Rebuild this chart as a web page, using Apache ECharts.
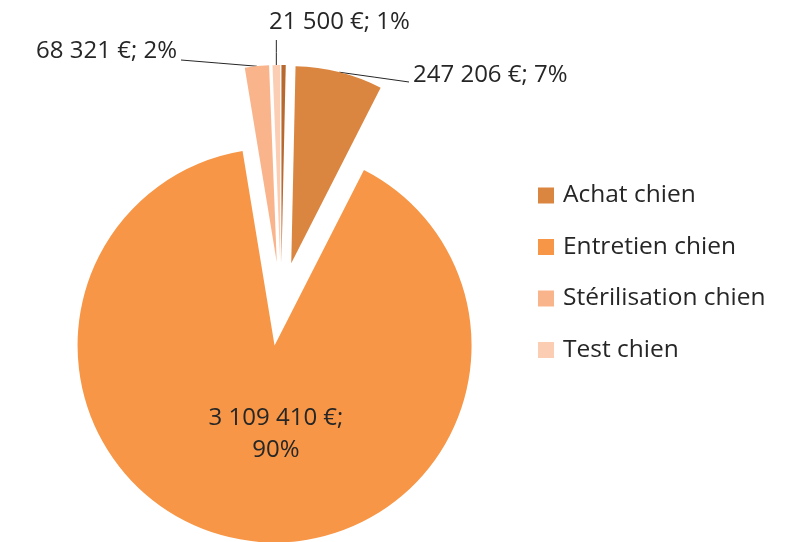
<!DOCTYPE html>
<html>
<head>
<meta charset="utf-8">
<script src="https://cdn.jsdelivr.net/npm/echarts@6/dist/echarts.min.js"></script>
<style>
  html, body { margin: 0; padding: 0; background: #fff; }
  #chart { width: 801px; height: 542px; }
</style>
</head>
<body>
<div id="chart"></div>
<script>
// Dépenses chien : montants en euros
const categories = ['Autres frais', 'Achat chien', 'Entretien chien', 'Stérilisation chien', 'Test chien'];
const montants = [12000, 247206, 3109410, 68321, 21500];
const legendNames = ['Achat chien', 'Entretien chien', 'Stérilisation chien', 'Test chien'];

const colors = ['#B8692F', '#DA8540', '#F79646', '#F9B48C', '#FBCDB3'];
const FONT = 'Open Sans';
const TEXT = '#262626';

// pie geometry and how far each slice is pulled out
const CX = 281, CY = 304, R = 197, EXPLODE = 42;

// where each label sits and where its leader line ends
const labelSpots = {
  1: { x: 413, y: 75, align: 'left', end: [409, 82] },
  2: { x: 276, y: 434, align: 'center' },
  3: { x: 177, y: 51, align: 'right', end: [181, 60] },
  4: { x: 269, y: 22, align: 'left', end: 'up' }
};

function euros(v) {
  return String(v).replace(/\B(?=(\d{3})+(?!\d))/g, ' ') + ' €';
}

// mid angle of every slice, measured clockwise from 12 o'clock
const total = montants.reduce(function (a, b) { return a + b; }, 0);
let acc = 0;
const midAngles = montants.map(function (v) {
  const m = (acc + v / 2) / total * 2 * Math.PI;
  acc += v;
  return m;
});

function sliceSeries(k) {
  const spot = labelSpots[k];
  return {
    type: 'pie',
    center: [CX + EXPLODE * Math.sin(midAngles[k]), CY - EXPLODE * Math.cos(midAngles[k])],
    radius: [0, R],
    startAngle: 90,
    clockwise: true,
    silent: true,
    avoidLabelOverlap: false,
    percentPrecision: 0,
    itemStyle: { borderWidth: 0 },
    label: {
      fontFamily: FONT,
      fontSize: 24,
      color: TEXT,
      formatter: function (p) {
        return euros(p.value) + (k === 2 ? ';\n' : '; ') + p.percent + '%';
      }
    },
    labelLine: { lineStyle: { color: '#262626', width: 1 } },
    labelLayout: function (p) {
      if (!spot) return {};
      const out = { x: spot.x, y: spot.y, align: spot.align, verticalAlign: 'middle' };
      if (spot.end && p.labelLinePoints) {
        const a = p.labelLinePoints[0];
        const e = spot.end === 'up' ? [a[0], spot.y + 18] : spot.end;
        out.labelLinePoints = [a, [(a[0] + e[0]) / 2, (a[1] + e[1]) / 2], e];
      }
      return out;
    },
    data: categories.map(function (name, i) {
      const mine = i === k;
      const item = {
        name: name,
        value: montants[i],
        itemStyle: { color: mine ? colors[i] : 'rgba(0,0,0,0)' },
        label: { show: mine && !!spot },
        labelLine: { show: mine && !!spot && !!spot.end }
      };
      if (mine && k === 2) {
        item.label.position = 'inside';
        item.label.lineHeight = 32;
        item.label.align = 'center';
      }
      return item;
    })
  };
}

const chart = echarts.init(document.getElementById('chart'), null, { renderer: 'canvas' });

chart.setOption({
  animation: false,
  legend: {
    data: legendNames.map(function (n) {
      return { name: n, itemStyle: { color: colors[categories.indexOf(n)] } };
    }),
    orient: 'vertical',
    left: 538,
    top: 183,
    padding: 0,
    icon: 'rect',
    itemWidth: 16,
    itemHeight: 16,
    itemGap: 26.5,
    selectedMode: false,
    textStyle: { fontFamily: FONT, fontSize: 24.5, color: TEXT, lineHeight: 24, padding: [0, 0, 0, 4] }
  },
  series: categories.map(function (n, k) { return sliceSeries(k); })
});
</script>
</body>
</html>
